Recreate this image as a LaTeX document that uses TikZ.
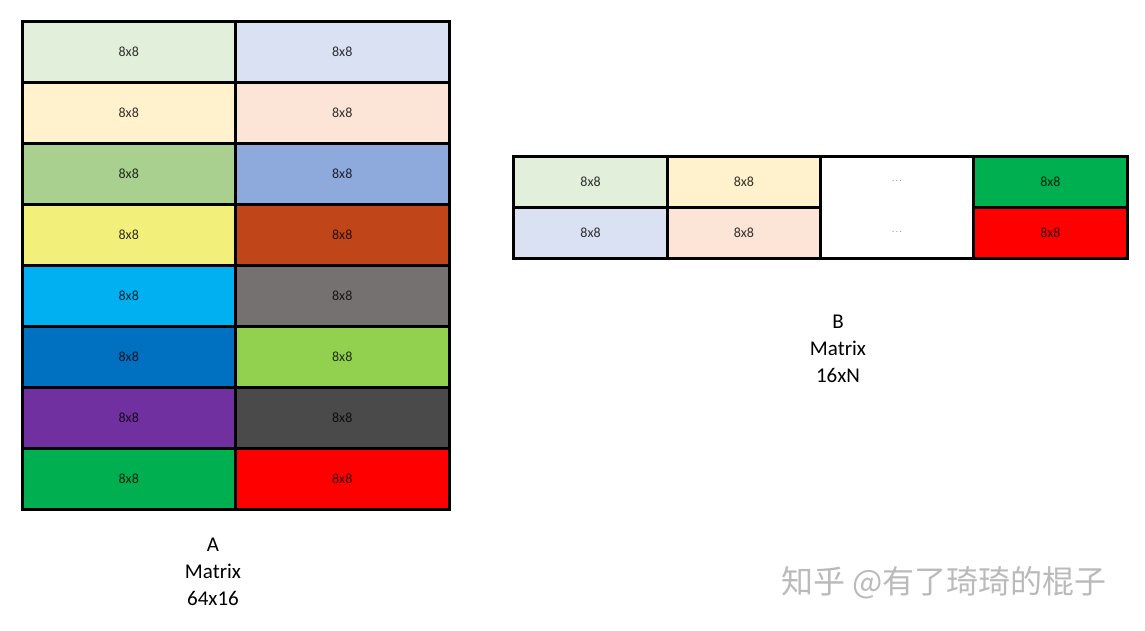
\documentclass[tikz,border=0pt]{standalone}
\usepackage{fontspec}
\setmainfont{Carlito}
\newfontfamily\cjk{Noto Sans CJK SC}

% 分块颜色
\definecolor{lgreen}{HTML}{E2EFDA}
\definecolor{lblue}{HTML}{D9E1F2}
\definecolor{lyellow}{HTML}{FFF2CC}
\definecolor{lpeach}{HTML}{FCE4D6}
\definecolor{mgreen}{HTML}{A9D08E}
\definecolor{mblue}{HTML}{8EA9DB}
\definecolor{yellowc}{HTML}{F2EF7A}
\definecolor{rust}{HTML}{C0461A}
\definecolor{sky}{HTML}{00B0F0}
\definecolor{wgray}{HTML}{767171}
\definecolor{dblue}{HTML}{0070C0}
\definecolor{grass}{HTML}{92D050}
\definecolor{violet}{HTML}{7030A0}
\definecolor{dgray}{HTML}{4A4A4A}
\definecolor{cgreen}{HTML}{00B050}
\definecolor{cred}{HTML}{FF0000}

\begin{document}
\begin{tikzpicture}[x=1pt, y=-1pt,
    cell/.style={draw=black, line width=3pt, minimum width=213.5pt, minimum height=61pt,
        inner sep=0pt, font=\fontsize{14}{14}\selectfont, text opacity=0.8},
    bcell/.style={cell, minimum width=153.25pt, minimum height=51pt},
    dots/.style={font=\fontsize{9}{9}\selectfont, text=black!45},
    label/.style={align=center, font=\fontsize{21}{27}\selectfont}]
    \useasboundingbox (0,0) rectangle (1145,630);

    % 矩阵 A：8 行 2 列的 8x8 分块
    \foreach \lc/\rc [count=\i] in {lgreen/lblue, lyellow/lpeach, mgreen/mblue, yellowc/rust,
        sky/wgray, dblue/grass, violet/dgray, cgreen/cred}
    {
        \node[cell, fill=\lc] (a\i1) at (128.75, {21+61*(\i-0.5)}) {8x8};
        \node[cell, fill=\rc] (a\i2) at (342.25, {21+61*(\i-0.5)}) {8x8};
    }

    % 矩阵 B：2 行分块，中间省略
    \node[bcell, fill=lgreen] (b11) at (590.6, 181.5) {8x8};
    \node[bcell, fill=lblue] (b21) at (590.6, 232.5) {8x8};
    \node[bcell, fill=lyellow] (b12) at (743.9, 181.5) {8x8};
    \node[bcell, fill=lpeach] (b22) at (743.9, 232.5) {8x8};
    \node[bcell, fill=white, minimum height=102pt] (b3) at (897.1, 207) {};
    \node[dots] (b13) at (897.1, 181.5) {.\,.\,.};
    \node[dots] (b23) at (897.1, 232.5) {.\,.\,.};
    \node[bcell, fill=cgreen] (b14) at (1050.4, 181.5) {8x8};
    \node[bcell, fill=cred] (b24) at (1050.4, 232.5) {8x8};

    % 标注矩阵名称
    \node[label] (labA) at (213, 572) {A\\Matrix\\64x16};
    \node[label] (labB) at (838, 349) {B\\Matrix\\16xN};

    % 水印
    \node[font=\cjk\fontsize{32}{32}\selectfont, text=black!27] (mark) at (944, 583) {知乎 @有了琦琦的棍子};
\end{tikzpicture}
\end{document}
